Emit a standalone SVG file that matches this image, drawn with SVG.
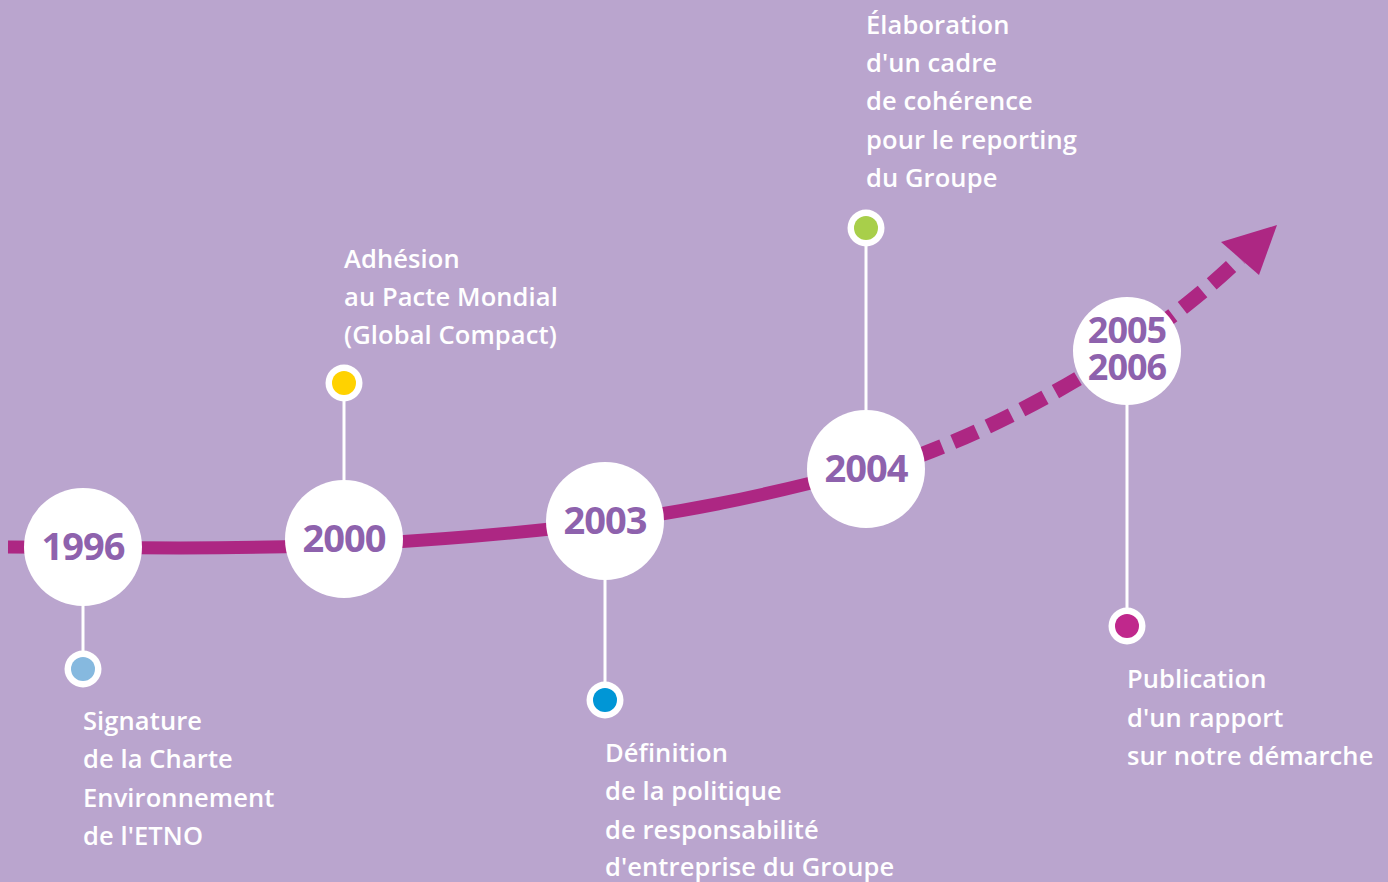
<svg xmlns="http://www.w3.org/2000/svg" width="1388" height="882" viewBox="0 0 1388 882">
  <style>
    .year { font-family: "Open Sans", "Liberation Sans", sans-serif; font-weight: 700; font-size: 38px; fill: #8E62AD; text-anchor: middle; letter-spacing: -1px; }
    .year.small { font-size: 36px; }
    .label { font-family: "Open Sans", "Liberation Sans", sans-serif; font-weight: 600; font-size: 25.5px; fill: #FFFFFF; letter-spacing: 0.1px; }
    .disc { fill: #FFFFFF; }
    .stem { stroke: #FFFFFF; stroke-width: 3; }
    .ring { fill: #FFFFFF; }
  </style>
  <rect width="1388" height="882" fill="#BAA5CE"/>

  <!-- timeline connectors -->
  <g id="connectors">
    <path d="M8,547 L180,548 C320,548 430,542 560,528 C680,514 760,497 866,469" fill="none" stroke="#AD2783" stroke-width="13"/>
    <path d="M918,456 C1020,418 1150,345 1240,258" fill="none" stroke="#AD2783" stroke-width="15" stroke-dasharray="26 12"/>
    <polygon points="1277,225 1221,242 1259,275" fill="#AD2783"/>
    <line class="stem" x1="83" y1="547" x2="83" y2="669"/>
    <line class="stem" x1="344" y1="539" x2="344" y2="383"/>
    <line class="stem" x1="605" y1="521" x2="605" y2="700"/>
    <line class="stem" x1="866" y1="469" x2="866" y2="228"/>
    <line class="stem" x1="1127" y1="351" x2="1127" y2="626"/>
  </g>

  <g id="n1996">
    <circle class="disc" cx="83" cy="547" r="59"/>
    <text class="year" x="83" y="560">1996</text>
    <circle class="ring" cx="83" cy="669" r="18.5"/>
    <circle cx="83" cy="669" r="12" fill="#86B9DF"/>
    <text class="label" x="83" y="730">Signature</text>
    <text class="label" x="83" y="768">de la Charte</text>
    <text class="label" x="83" y="807">Environnement</text>
    <text class="label" x="83" y="845">de l'ETNO</text>
  </g>

  <g id="n2000">
    <circle class="disc" cx="344" cy="539" r="59"/>
    <text class="year" x="344" y="552">2000</text>
    <circle class="ring" cx="344" cy="383" r="18.5"/>
    <circle cx="344" cy="383" r="12" fill="#FFD200"/>
    <text class="label" x="344" y="268">Adhésion</text>
    <text class="label" x="344" y="306">au Pacte Mondial</text>
    <text class="label" x="344" y="344">(Global Compact)</text>
  </g>

  <g id="n2003">
    <circle class="disc" cx="605" cy="521" r="59"/>
    <text class="year" x="605" y="534">2003</text>
    <circle class="ring" cx="605" cy="700" r="18.5"/>
    <circle cx="605" cy="700" r="12" fill="#0096D6"/>
    <text class="label" x="605" y="762">Définition</text>
    <text class="label" x="605" y="800">de la politique</text>
    <text class="label" x="605" y="839">de responsabilité</text>
    <text class="label" x="605" y="876">d'entreprise du Groupe</text>
  </g>

  <g id="n2004">
    <circle class="disc" cx="866" cy="469" r="59"/>
    <text class="year" x="866" y="482">2004</text>
    <circle class="ring" cx="866" cy="228" r="18.5"/>
    <circle cx="866" cy="228" r="12" fill="#A8CF4A"/>
    <text class="label" x="866" y="34">Élaboration</text>
    <text class="label" x="866" y="72">d'un cadre</text>
    <text class="label" x="866" y="110">de cohérence</text>
    <text class="label" x="866" y="149">pour le reporting</text>
    <text class="label" x="866" y="187">du Groupe</text>
  </g>

  <g id="n2005">
    <circle class="disc" cx="1127" cy="351" r="54"/>
    <text class="year small" x="1127" y="343">2005<tspan x="1127" y="380">2006</tspan></text>
    <circle class="ring" cx="1127" cy="626" r="18.5"/>
    <circle cx="1127" cy="626" r="12" fill="#C0288C"/>
    <text class="label" x="1127" y="688">Publication</text>
    <text class="label" x="1127" y="727">d'un rapport</text>
    <text class="label" x="1127" y="765">sur notre démarche</text>
  </g>
</svg>
